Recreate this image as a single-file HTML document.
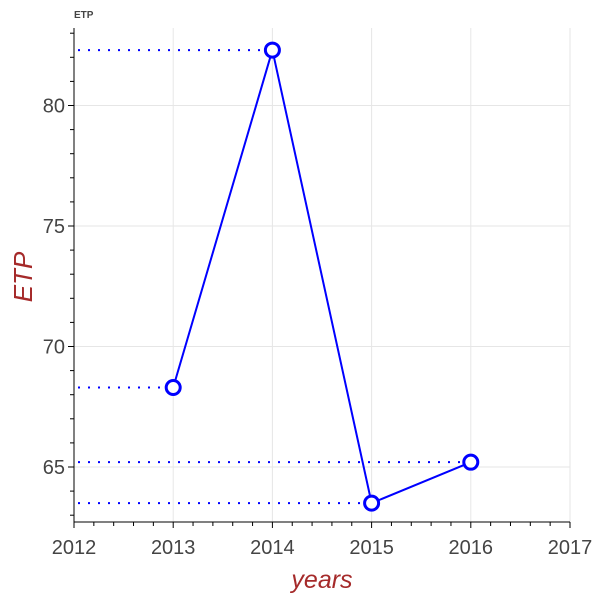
<!DOCTYPE html>
<html><head><meta charset="utf-8"><style>body{margin:0;background:#fff}svg{display:block;font-family:"Liberation Sans",sans-serif}</style></head>
<body>
<svg id="chart" width="600" height="600" viewBox="0 0 600 600">
<text x="74" y="18" font-size="10" font-weight="bold" fill="#444">ETP</text>
<g id="grid"></g><g id="axes"></g><g id="marks"></g>
<text x="322" y="588" font-size="25" font-style="italic" fill="#a52a2a" text-anchor="middle">years</text>
<text transform="translate(32,277) rotate(-90)" font-size="26" font-style="italic" fill="#a52a2a" text-anchor="middle">ETP</text>
</svg>
<script>
const years=[2013,2014,2015,2016];
const etp=[68.3,82.3,63.5,65.2];
const xTicks=[2012,2013,2014,2015,2016,2017];
const yTicks=[65,70,75,80];
const X0=74,X1=570,Y0=28,Y1=522;
const sx=v=>X0+(v-2012)*(X1-X0)/5;
const sy=v=>467-(v-65)*24.1;
const NS="http://www.w3.org/2000/svg";
function mk(p,t,a){const e=document.createElementNS(NS,t);for(const k in a)e.setAttribute(k,a[k]);p.appendChild(e);return e;}
const G=document.getElementById('grid'),A=document.getElementById('axes'),M=document.getElementById('marks');
xTicks.forEach(t=>{const l=mk(G,'line',{x1:sx(t),x2:sx(t),y1:Y0,y2:Y1,stroke:'#e6e6e6'});


const tk=mk(A,'line',{x1:sx(t),x2:sx(t),y1:Y1,y2:Y1+6,stroke:'#000'});


const tx=mk(A,'text',{x:sx(t),y:Y1+32,'font-size':20,fill:'#444','text-anchor':'middle'});tx.textContent=t;


if(t<2017)for(let i=1;i<5;i++){const m=mk(A,'line',{x1:sx(t+i*0.2),x2:sx(t+i*0.2),y1:Y1,y2:Y1+4,stroke:'#000'});

}});
yTicks.forEach(t=>{const l=mk(G,'line',{x1:X0,x2:X1,y1:sy(t),y2:sy(t),stroke:'#e6e6e6'});


const tk=mk(A,'line',{x1:X0-6,x2:X0,y1:sy(t),y2:sy(t),stroke:'#000'});


const tx=mk(A,'text',{x:X0-9,y:sy(t)+7,'font-size':20,fill:'#444','text-anchor':'end'});tx.textContent=t;

});
for(let v=63;v<=83;v++){if(v%5==0)continue;const m=mk(A,'line',{x1:X0-4,x2:X0,y1:sy(v),y2:sy(v),stroke:'#000'});

}
const xa=mk(A,'line',{x1:X0,x2:X1,y1:Y1,y2:Y1,stroke:'#000'});


const ya=mk(A,'line',{x1:X0,x2:X0,y1:Y0,y2:Y1,stroke:'#000'});


years.forEach((y,i)=>{const d=mk(M,'line',{x1:X0+4,x2:sx(y),y1:sy(etp[i]),y2:sy(etp[i]),stroke:'#00f','stroke-width':2,'stroke-dasharray':'2 8'});

});
const pl=mk(M,'polyline',{points:years.map((y,i)=>sx(y)+','+sy(etp[i])).join(' '),fill:'none',stroke:'#00f','stroke-width':2});


years.forEach((y,i)=>{const c=mk(M,'circle',{cx:sx(y),cy:sy(etp[i]),r:7,fill:'#fff',stroke:'#00f','stroke-width':3});

});
</script>
</body></html>
